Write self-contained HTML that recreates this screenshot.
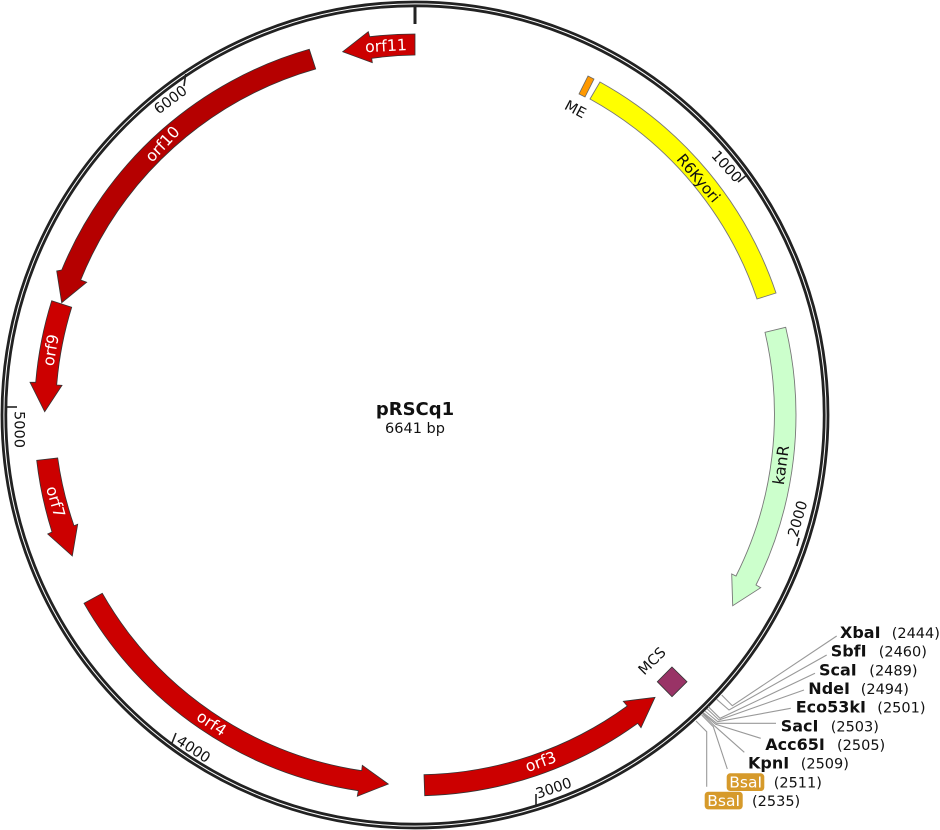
<!DOCTYPE html>
<html><head><meta charset="utf-8"><style>
html,body{margin:0;padding:0;background:#fff}
svg{display:block}
text{font-family:"DejaVu Sans","Liberation Sans",sans-serif;font-size:14.5px;fill:#111}
.m{text-anchor:middle;dominant-baseline:central}
.f{font-size:15.8px}
.w{fill:#fff}
.b{font-weight:bold;font-size:16px}
.r{fill:#c00;stroke:#333;stroke-width:.8}
.t{stroke:#222;stroke-width:1.6;fill:none}
.l{stroke:#999;stroke-width:1.1;fill:none}
</style></head><body>
<svg width="940" height="830" viewBox="0 0 940 830" xmlns="http://www.w3.org/2000/svg">
<circle cx="415" cy="415" r="413" fill="none" stroke="#222" stroke-width="2.8"/>
<circle cx="415" cy="415" r="409.2" fill="none" stroke="#222" stroke-width="2.8"/>
<path d="M415,7V24" stroke="#222" stroke-width="3" fill="none"/>
<path class="t" d="M745.5,176L738,182"/>
<path class="t" d="M799,538L797,546"/>
<path class="t" d="M536,794L536,805"/>
<path class="t" d="M176,733L172,743"/>
<path class="t" d="M7,407H17"/>
<path class="t" d="M185.7,74L184,86"/>
<text class="m" transform="translate(726,167) rotate(48)">1000</text>
<text class="m" transform="translate(798.5,519) rotate(-74)">2000</text>
<text class="m" transform="translate(554,789) rotate(-19)">3000</text>
<text class="m" transform="translate(193,750) rotate(33)">4000</text>
<text class="m" transform="translate(18.5,429.5) rotate(90)">5000</text>
<text class="m" transform="translate(171,100.5) rotate(-37)">6000</text>

<path class="r" d="M415,34A381,381 0 0 0 369.7,36.7L368.3,31.7L342.7,51.7L372.3,62.7L371.7,58.3A360,360 0 0 1 415,55Z"/>
<path d="M309.3,49.3A381,381 0 0 0 61.7,270L56.7,271L61.7,302.7L86.7,282.3L80.7,280A360,360 0 0 1 315.7,69Z" fill="#b50000" stroke="#333" stroke-width=".8"/>
<path class="r" d="M51.7,300.7A381,381 0 0 0 35.7,382.3L30,382.3L44.7,411.7L62,385.3L56.7,385A360,360 0 0 1 71.7,307.3Z"/>
<path class="r" d="M36.7,460.3A381,381 0 0 0 52,532L47.7,534L72.3,556L77.7,524.3L74,525.7A360,360 0 0 1 57.7,458Z"/>
<path class="r" d="M84,603.3A381,381 0 0 0 358.3,790.7L357.3,796.3L388.3,784L362.3,765.3L361.7,770.7A360,360 0 0 1 102.3,593.3Z"/>
<path class="r" d="M424.7,795.7A381,381 0 0 0 637.7,723.3L641,727.7L655,697.3L623.3,701.3L627.3,706A360,360 0 0 1 424,774.7Z"/>
<path d="M785.7,327.3A381,381 0 0 1 756,585L760.7,587.7L732.7,605.7L731.7,574L736,576A360,360 0 0 0 765,332.3Z" fill="#ccffcc" stroke="#777" stroke-width=".9"/>
<path d="M600,82A381,381 0 0 1 776,293L757,299A361,361 0 0 0 590,99Z" fill="#ffff00" stroke="#777" stroke-width=".9"/>
<path d="M588,76L594,79L585,97L579,94Z" fill="#ff9900" stroke="#666" stroke-width=".8"/>
<path d="M672,667L687,681.7L672,696.7L657.3,681.7Z" fill="#993366" stroke="#333" stroke-width=".8"/>

<text class="m w f" transform="translate(386,45.7) rotate(-3)">orf11</text>
<text class="m w f" transform="translate(162.3,144) rotate(-47)">orf10</text>
<text class="m w f" transform="translate(50.7,350) rotate(-80)">orf9</text>
<text class="m w f" transform="translate(55.7,501.7) rotate(74)">orf7</text>
<text class="m w f" transform="translate(211.7,723.3) rotate(33.4)">orf4</text>
<text class="m w f" transform="translate(540.7,761.7) rotate(-20)">orf3</text>
<text class="m f" transform="translate(781,465) rotate(-82)">kanR</text>
<text class="m" style="font-size:15.2px" transform="translate(698.3,178.3) rotate(50)">R6Kyori</text>
<text class="m" transform="translate(575,110) rotate(28)">ME</text>
<text class="m" transform="translate(652.7,661.7) rotate(-45)">MCS</text>

<text x="415" y="415" text-anchor="middle" style="font-size:18px;font-weight:bold">pRSCq1</text>
<text x="415" y="433" text-anchor="middle">6641 bp</text>

<path class="l" d="M836.7,636L732.3,705.7L721.7,695"/>
<path class="l" d="M826.7,655L729,710L716.7,699.3"/>
<path class="l" d="M815,673.3L720,718.3L708.3,706.7"/>
<path class="l" d="M804,690L719,720L707.3,709"/>
<path class="l" d="M790.7,708.3L717.7,721.7L705,711"/>
<path class="l" d="M776,723.3L716.7,723.3L703.3,712.7"/>
<path class="l" d="M760.7,738.3L715.7,724.3L702.7,713.3"/>
<path class="l" d="M744.3,752.3L714.3,725.7L702.7,714"/>
<path class="l" d="M727.3,769L713.3,726.7L701.7,715"/>
<path class="l" d="M706.7,786.7L706.7,731.7L696,721"/>

<text class="b" x="840" y="638">XbaI</text><text x="891.7" y="638">(2444)</text>
<text class="b" x="830.7" y="656.7">SbfI</text><text x="878.7" y="656.7">(2460)</text>
<text class="b" x="819" y="675.3">ScaI</text><text x="869.3" y="675.3">(2489)</text>
<text class="b" x="808.3" y="694">NdeI</text><text x="860.7" y="694">(2494)</text>
<text class="b" x="795.7" y="712.7">Eco53kI</text><text x="877.3" y="712.7">(2501)</text>
<text class="b" x="780.7" y="731.4">SacI</text><text x="830.7" y="731.4">(2503)</text>
<text class="b" x="765.3" y="750">Acc65I</text><text x="837" y="750">(2505)</text>
<text class="b" x="748" y="768.7">KpnI</text><text x="800.7" y="768.7">(2509)</text>
<rect x="726.7" y="773.3" width="37.6" height="17.7" rx="3.5" fill="#d69a2b"/>
<text class="w" style="font-size:15.5px" x="729.3" y="787.4">BsaI</text><text x="773.7" y="787.4">(2511)</text>
<rect x="704.7" y="791.7" width="38" height="17.7" rx="3.5" fill="#d69a2b"/>
<text class="w" style="font-size:15.5px" x="707.3" y="806">BsaI</text><text x="752" y="806">(2535)</text>
</svg>
</body></html>
